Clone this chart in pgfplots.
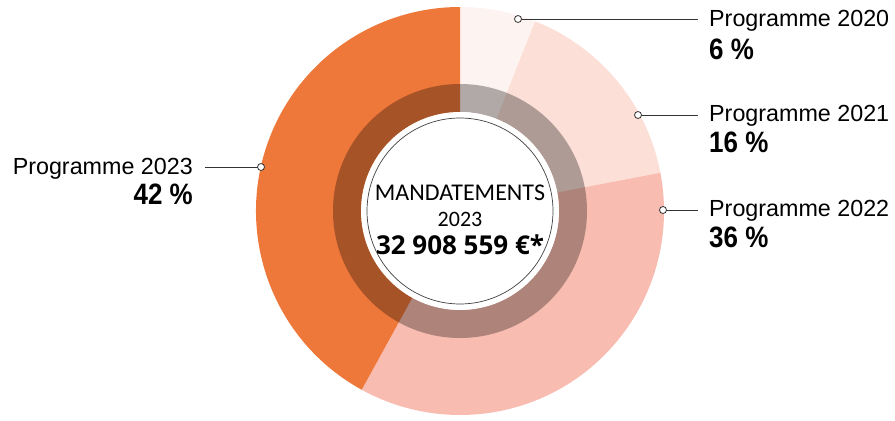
\documentclass[border=0pt]{standalone}
\usepackage{pgfplots}
\pgfplotsset{compat=1.18}
\usepackage{pgfplotstable}
\usepackage{fontspec}
\setmainfont{Liberation Sans}
\newfontfamily\carlito{Carlito}
\newfontfamily\opensans{Open Sans}
\definecolor{c2020}{HTML}{FDF3F1}
\definecolor{c2021}{HTML}{FCDFD7}
\definecolor{c2022}{HTML}{F8BCB0}
\definecolor{c2023}{HTML}{EE773A}
\definecolor{lead}{HTML}{333333}

\pgfplotstableread{
year pct
2020 6
2021 16
2022 36
2023 42
}\shares

\pgfplotstablegetelem{0}{pct}\of\shares \edef\pA{\pgfplotsretval}
\pgfplotstablegetelem{1}{pct}\of\shares \edef\pB{\pgfplotsretval}
\pgfplotstablegetelem{2}{pct}\of\shares \edef\pC{\pgfplotsretval}
\pgfplotstablegetelem{3}{pct}\of\shares \edef\pD{\pgfplotsretval}
\pgfmathsetmacro\aA{90}
\pgfmathsetmacro\aB{\aA-3.6*\pA}
\pgfmathsetmacro\aC{\aB-3.6*\pB}
\pgfmathsetmacro\aD{\aC-3.6*\pC}
\pgfmathsetmacro\aE{\aD-3.6*\pD}

\newcommand\pct[1]{\scalebox{0.88}[1]{\fontsize{29.5}{29.5}\selectfont\bfseries #1}}
\newcommand\prog[1]{{\fontsize{23.3}{23.3}\selectfont #1}}

\begin{document}
\begin{tikzpicture}
\begin{axis}[width=895pt,height=417pt,scale only axis,
  xmin=0,xmax=895,ymin=0,ymax=417,hide axis,clip=false]
\path (axis cs:0,0) rectangle (axis cs:895,417);
% sectors
\fill[c2020] (axis cs:460,206) -- ++(\aA:204pt) arc[start angle=\aA,end angle=\aB,radius=204pt] -- cycle;
\fill[c2021] (axis cs:460,206) -- ++(\aB:204pt) arc[start angle=\aB,end angle=\aC,radius=204pt] -- cycle;
\fill[c2022] (axis cs:460,206) -- ++(\aC:204pt) arc[start angle=\aC,end angle=\aD,radius=204pt] -- cycle;
\fill[c2023] (axis cs:460,206) -- ++(\aD:204pt) arc[start angle=\aD,end angle=\aE,radius=204pt] -- cycle;
% dark ring
\fill[black,opacity=0.3,even odd rule] (axis cs:460,206) circle[radius=127pt] (axis cs:460,206) circle[radius=99pt];
\fill[white] (axis cs:460,206) circle[radius=99pt];
\draw[black!75,line width=0.7pt] (axis cs:460,206) circle[radius=93pt];
% center text
\node[font=\carlito\fontsize{24}{24}\selectfont] at (axis cs:460,224) {MANDATEMENTS};
\node[font=\carlito\fontsize{22}{22}\selectfont] at (axis cs:460,198) {2023};
\node[font=\opensans\bfseries\fontsize{26}{26}\selectfont] at (axis cs:460,172) {32 908 559 €*};
% leaders
\draw[lead,line width=0.9pt] (axis cs:518,398) -- (axis cs:698,398);
\draw[lead,line width=0.9pt] (axis cs:638,302) -- (axis cs:698,302);
\draw[lead,line width=0.9pt] (axis cs:663,207) -- (axis cs:698,207);
\draw[lead,line width=0.9pt] (axis cs:205,250) -- (axis cs:261,250);
\draw[lead,fill=white,line width=0.8pt] (axis cs:518,398) circle[radius=3.5pt];
\draw[lead,fill=white,line width=0.8pt] (axis cs:638,302) circle[radius=3.5pt];
\draw[lead,fill=white,line width=0.8pt] (axis cs:663,207) circle[radius=3.5pt];
\draw[lead,fill=white,line width=0.8pt] (axis cs:261,250) circle[radius=3.5pt];
% labels
\node[anchor=base west,inner sep=0pt] at (axis cs:709,390) {\prog{Programme 2020}};
\node[anchor=base west,inner sep=0pt] at (axis cs:709,357) {\pct{6 \%}};
\node[anchor=base west,inner sep=0pt] at (axis cs:709,295) {\prog{Programme 2021}};
\node[anchor=base west,inner sep=0pt] at (axis cs:709,264) {\pct{16 \%}};
\node[anchor=base west,inner sep=0pt] at (axis cs:709,200) {\prog{Programme 2022}};
\node[anchor=base west,inner sep=0pt] at (axis cs:709,169) {\pct{36 \%}};
\node[anchor=base east,inner sep=0pt] at (axis cs:193,242) {\prog{Programme 2023}};
\node[anchor=base east,inner sep=0pt] at (axis cs:193,212) {\pct{42 \%}};
\end{axis}
\end{tikzpicture}
\end{document}
